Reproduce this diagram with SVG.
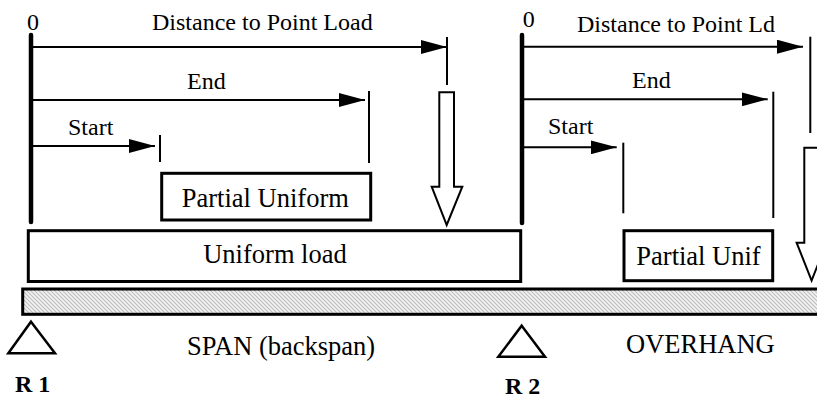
<svg xmlns="http://www.w3.org/2000/svg" width="817" height="398" viewBox="0 0 817 398" font-family="'Liberation Serif', 'DejaVu Serif', serif">
<style>
text{font-family:'Liberation Serif','DejaVu Serif',serif;fill:#000}
.sm{font-size:24px}
.lg{font-size:26.5px}
.bd{font-size:24px;font-weight:bold}
.ln{stroke:#000;stroke-width:2;fill:none}
.tk{stroke:#000;stroke-width:2;fill:none}
.post{stroke:#000;stroke-width:4.5;stroke-linecap:round;fill:none}
.box{stroke:#000;stroke-width:3;fill:#fff}
.hol{stroke:#000;stroke-width:2;fill:#fff;stroke-linejoin:miter}
.sup{stroke:#000;stroke-width:2.5;fill:#fff}
</style>
<defs>
<marker id="ah" viewBox="0 0 26 14" refX="26" refY="7" markerWidth="26" markerHeight="14" markerUnits="userSpaceOnUse" orient="auto">
<path d="M0,0 L26,7 L0,14 z" fill="#000"/>
</marker>
<pattern id="hatch" width="4" height="4" patternUnits="userSpaceOnUse">
<rect width="4" height="4" fill="#f4f4f4"/>
<path d="M-1,-1 L5,5 M-1,3 L1,5 M3,-1 L5,1" stroke="#bdbdbd" stroke-width="1.2"/>
</pattern>
</defs>
<rect width="817" height="398" fill="#fff"/>

<g id="beam">
<rect x="22.7" y="289" width="820" height="25.3" fill="url(#hatch)" stroke="#000" stroke-width="3"/>
</g>

<g id="uniform-load">
<rect class="box" x="28.3" y="230.7" width="492.4" height="50.8"/>
<text class="lg" font-family="Liberation Serif, serif" x="275" y="263.3" text-anchor="middle">Uniform load</text>
</g>

<g id="partial-uniform">
<rect class="box" x="161.7" y="173.3" width="209" height="46.7"/>
<text class="lg" font-family="Liberation Serif, serif" x="265.3" y="206.7" text-anchor="middle">Partial Uniform</text>
</g>

<g id="partial-unif">
<rect class="box" x="624" y="230.7" width="148.7" height="50"/>
<text class="lg" font-family="Liberation Serif, serif" x="698.5" y="265" text-anchor="middle">Partial Unif</text>
</g>

<g id="point-load-span">
<polygon class="hol" points="439.3,92.3 454,92.3 454,186.7 462.3,186.7 446.7,225 431.7,186.7 439.3,186.7"/>
</g>

<g id="point-load-overhang">
<polygon class="hol" points="804.3,147.7 819,147.7 819,242.7 826.6,242.7 811.6,280.5 796.6,242.7 804.3,242.7"/>
</g>

<g id="r1">
<polygon class="sup" points="31,321.7 55,353.3 8.3,353.3"/>
<text class="bd" font-family="Liberation Serif, serif" x="15" y="392">R 1</text>
</g>

<g id="r2">
<polygon class="sup" points="521.7,325.7 545,356.7 498.3,356.7"/>
<text class="bd" font-family="Liberation Serif, serif" x="505" y="394">R 2</text>
</g>

<g id="labels" font-family="Liberation Serif, serif">
<text class="sm" x="33" y="30" text-anchor="middle">0</text>
<text class="sm" x="152" y="30">Distance to Point Load</text>
<text class="sm" x="187" y="89">End</text>
<text class="sm" x="68" y="135">Start</text>
<text class="lg" x="187" y="355">SPAN (backspan)</text>
<text class="sm" x="522.7" y="27">0</text>
<text class="sm" x="577" y="31.5">Distance to Point Ld</text>
<text class="sm" x="632" y="87.5">End</text>
<text class="sm" x="548" y="134">Start</text>
<text class="lg" x="626" y="352.7">OVERHANG</text>
</g>

<g id="connectors">
<line class="post" x1="31" y1="35" x2="31" y2="222"/>
<line class="post" x1="522" y1="35" x2="522" y2="223"/>
<line class="ln" x1="33" y1="47" x2="447" y2="47" marker-end="url(#ah)"/>
<line class="ln" x1="33" y1="100" x2="365" y2="100" marker-end="url(#ah)"/>
<line class="ln" x1="33" y1="146" x2="155" y2="146" marker-end="url(#ah)"/>
<line class="tk" x1="447" y1="37" x2="447" y2="85"/>
<line class="tk" x1="369" y1="91" x2="369" y2="163"/>
<line class="tk" x1="160" y1="135" x2="160" y2="162"/>
<line class="ln" x1="524" y1="46.7" x2="803" y2="46.7" marker-end="url(#ah)"/>
<line class="ln" x1="524" y1="99.3" x2="767.7" y2="99.3" marker-end="url(#ah)"/>
<line class="ln" x1="524" y1="147.3" x2="616.7" y2="147.3" marker-end="url(#ah)"/>
<line class="tk" x1="810.3" y1="36.7" x2="810.3" y2="133"/>
<line class="tk" x1="773.3" y1="91.7" x2="773.3" y2="218"/>
<line class="tk" x1="623.3" y1="142.7" x2="623.3" y2="213.3"/>
</g>
</svg>
